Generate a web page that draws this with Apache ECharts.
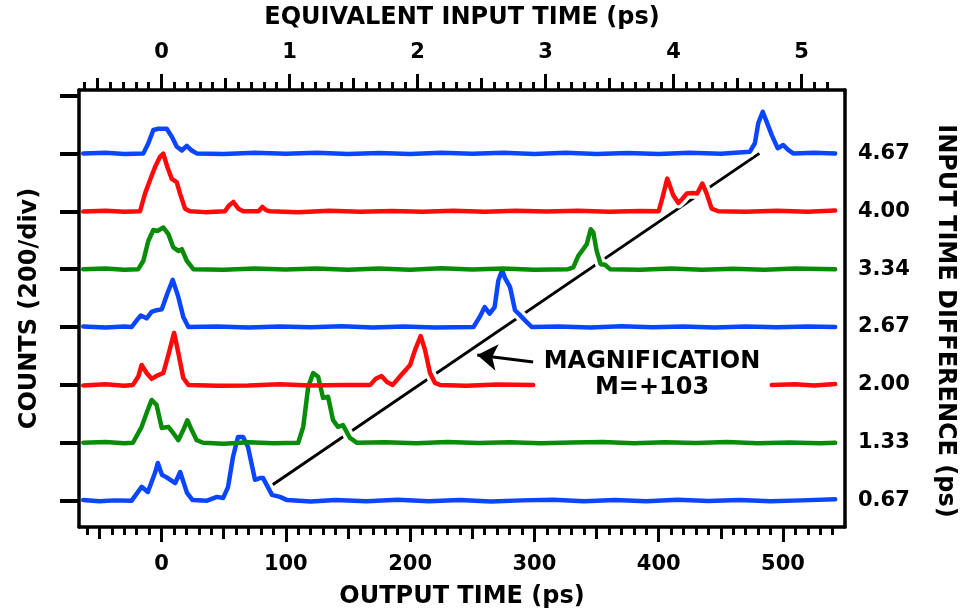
<!DOCTYPE html>
<html>
<head>
<meta charset="utf-8">
<script src="https://cdn.jsdelivr.net/npm/echarts@6/dist/echarts.min.js"></script>
<style>
html, body { margin: 0; padding: 0; background: #fff; }
#chart { width: 969px; height: 613px; }
</style>
</head>
<body>
<div id="chart"></div>
<script>
// tick labels
const outputTicks = [0, 100, 200, 300, 400, 500];     // ps, bottom axis
const inputTicks = [0, 1, 2, 3, 4, 5];                // ps, top axis
const diffLabels = ['0.67', '1.33', '2.00', '2.67', '3.34', '4.00', '4.67'];
const countTicks = [0, 200, 400, 600, 800, 1000, 1200, 1400];
const magnification = 103;

// counts vs output time (ps), one trace per input time difference, bottom to top
const t067 = [[-63,2],[-50,-2],[-38,1],[-24,0],[-16,48],[-11,30],[-5,99],[-3,130],[0.4,89],[5,78],[11,61],[15,99],[20.5,27],[25,2],[36.6,0],[44.6,13],[49.5,9],[53.5,47],[57.5,151],[61.5,220],[65.6,220],[69.6,185],[75.2,72],[79.2,78],[81.7,78],[88.9,20],[95.3,13],[101,2],[120,-3],[140,2],[165,-2],[190,3],[215,-2],[240,2],[265,-3],[290,1],[315,3],[340,-2],[365,2],[390,-2],[415,3],[440,-1],[465,2],[490,-2],[515,1],[542,5]];
const t133 = [[-63,0],[-45,3],[-30,-2],[-23,0],[-16,55],[-12,103],[-8,148],[-4,131],[0.2,51],[5.5,55],[9.5,33],[13.5,9],[17.5,44],[20.8,78],[24.3,44],[28.3,9],[33.4,0],[50,-3],[70,2],[90,-2],[110,0],[114,55],[118,193],[122,241],[126,228],[130,155],[134,159],[138,78],[142,55],[146,61],[151.6,17],[157.3,0],[180,2],[205,-2],[230,3],[255,-1],[280,2],[305,-2],[330,1],[355,3],[380,-2],[405,2],[430,-1],[455,3],[480,-2],[505,1],[530,-2],[542,0]];
const t200 = [[-63,-2],[-45,2],[-30,-3],[-23,0],[-18.7,29],[-16,69],[-12,41],[-8,21],[-4,31],[1.4,41],[5.5,104],[10.1,180],[13.5,111],[17.5,24],[21.6,0],[45,-3],[70,-2],[95,2],[120,-2],[145,0],[168,0],[172,20],[177,31],[181.4,10],[186,0],[193,35],[200,69],[204,121],[208.5,169],[212,121],[216,41],[220,7],[224,0],[245,-3],[270,1],[299,0],[400,null],[491,0],[510,2],[525,-2],[542,3]];
const t267 = [[-63,2],[-45,-2],[-30,2],[-24,0],[-20,23],[-16.7,40],[-12,30],[-8,52],[-4,58],[0.2,61],[4.7,116],[9,163],[13.5,104],[17.5,35],[21.6,0],[45,2],[70,-2],[95,2],[120,-1],[145,3],[170,-2],[195,2],[220,-2],[251,0],[256,35],[260,69],[264,46],[268,69],[271,161],[274,196],[276.4,169],[280.4,138],[284.4,58],[288.4,41],[292.4,23],[298,0],[320,2],[345,-2],[370,3],[395,-1],[420,2],[445,-2],[470,2],[495,-1],[520,2],[542,0]];
const t334 = [[-63,0],[-45,2],[-30,-2],[-18.7,0],[-14.6,29],[-10.6,98],[-6.6,135],[-3.1,132],[1.4,144],[5.5,121],[9.5,75],[13.5,63],[16.3,69],[20.3,29],[25.6,0],[50,-2],[75,2],[100,-1],[125,2],[150,-2],[175,2],[200,-2],[225,3],[250,-1],[275,2],[300,-2],[327,0],[331.3,6],[335.3,46],[339.3,69],[342.1,86],[345.3,138],[347.4,127],[350.1,63],[353.3,17],[356.8,15],[360.8,0],[385,-2],[410,2],[435,-2],[460,1],[485,-2],[510,2],[542,0]];
const t400 = [[-63,-1],[-45,2],[-30,-2],[-17.3,0],[-13.3,61],[-9.3,107],[-5.2,153],[-1.2,188],[1.4,199],[4.7,153],[8.2,112],[12.2,101],[14.9,61],[18.9,9],[22.9,0],[35,-3],[51,0],[54.5,21],[57.8,32],[61.8,9],[65.8,0],[78,0],[81.1,15],[84.6,3],[87.3,0],[110,-3],[135,2],[160,-2],[185,1],[210,-2],[235,2],[260,-2],[285,2],[310,-1],[335,2],[360,-2],[385,1],[400,0],[403.2,50],[406.9,113],[411.7,55],[415.8,29],[419.3,44],[422.5,61],[427.8,63],[431,61],[435.1,96],[438.6,61],[442.6,9],[448,0],[470,-2],[495,2],[520,-2],[542,3]];
const t467 = [[-63,0],[-45,2],[-30,-2],[-14.6,0],[-10.6,35],[-6.6,81],[-2.6,85],[4.2,85],[8.2,58],[12.2,24],[16.3,10],[20.3,26],[24.3,10],[28.3,0],[50,-2],[75,2],[100,-1],[125,2],[150,-2],[175,1],[200,-2],[225,2],[250,-1],[275,2],[300,-2],[325,2],[350,-2],[375,1],[400,-2],[425,2],[450,-1],[473.4,6],[477.4,35],[480.1,104],[483.7,144],[486.9,109],[490.9,64],[495.7,18],[500.2,29],[504.2,12],[508.2,0],[525,2],[542,0]];

// magnification guide line and arrow (output time, stacked counts)
const guideLine = [[87, 48], [481, 1200]];
const arrowLine = [[299, 479], [254, 503]];

const traces = [t067, t133, t200, t267, t334, t400, t467];
const traceColors = ['#0a46ff', '#078c07', '#ff0a0a', '#0a46ff', '#078c07', '#ff0a0a', '#0a46ff'];

const xMin = -66.4, xMax = 549.9, yMin = -91, yMax = 1419;

// minor and mid ticks for both time axes
const outMinor = [], outMid = [], inMinor = [], inMid = [];
for (let k = -6; k <= 54; k++) outMinor.push(k * 10);
for (let k = -1; k <= 10; k += 2) outMid.push(k * 50);
for (let k = -6; k <= 52; k++) inMinor.push(k / 10);
for (let k = -1; k <= 10; k += 2) inMid.push(k / 2);

const font = { color: '#000', fontFamily: 'DejaVu Sans', fontWeight: 'bold' };
const spine = { show: true, onZero: false, lineStyle: { color: '#000', width: 3.5 } };

function tickAxis(pos, min, max, ticks, len, labels) {
    return {
        type: 'value', position: pos, min: min, max: max,
        axisLine: labels ? spine : { show: false, onZero: false },
        axisTick: { show: true, customValues: ticks, length: len, lineStyle: { color: '#000', width: 3 } },
        axisLabel: labels ? Object.assign({ show: true, customValues: ticks, fontSize: 21, margin: 27 }, font) : { show: false },
        splitLine: { show: false }
    };
}

const xBottom = tickAxis('bottom', xMin, xMax, outputTicks, 15, true);
xBottom.name = 'OUTPUT TIME (ps)';
xBottom.nameLocation = 'middle';
xBottom.nameGap = 58;
xBottom.nameTextStyle = Object.assign({ fontSize: 24 }, font);

const xTop = tickAxis('top', xMin / magnification, xMax / magnification, inputTicks, 16, true);
xTop.name = 'EQUIVALENT INPUT TIME (ps)';
xTop.nameLocation = 'middle';
xTop.nameGap = 60;
xTop.nameTextStyle = Object.assign({ fontSize: 24 }, font);

const series = [{
    type: 'line', data: guideLine, z: 1, silent: true, showSymbol: false,
    lineStyle: { color: '#000', width: 3 },
    markLine: {
        silent: true, animation: false, symbol: ['none', 'arrow'], symbolSize: 20,
        label: { show: false },
        lineStyle: { color: '#000', width: 3, type: 'solid' },
        data: [[{ coord: arrowLine[0] }, { coord: arrowLine[1] }]]
    }
}];

traces.forEach(function (tr, i) {
    const shifted = tr.map(function (p) { return [p[0], p[1] === null ? null : p[1] + i * 200]; });
    series.push({
        type: 'line', data: shifted, z: 2, silent: true, showSymbol: false,
        lineStyle: { color: '#fff', width: 11, join: 'round' }
    });
    series.push({
        type: 'line', data: shifted, z: 3, silent: true, showSymbol: false,
        lineStyle: { color: traceColors[i], width: 4.5, join: 'round', cap: 'round' }
    });
});

const chart = echarts.init(document.getElementById('chart'), null, { renderer: 'canvas' });
chart.setOption({
    animation: false,
    backgroundColor: '#fff',
    grid: { left: 79, right: 124, top: 90, bottom: 86, containLabel: false, outerBoundsMode: 'none' },
    xAxis: [
        xBottom,
        tickAxis('bottom', xMin, xMax, outMinor, 8, false),
        tickAxis('bottom', xMin, xMax, outMid, 12, false),
        xTop,
        tickAxis('top', xMin / magnification, xMax / magnification, inMinor, 8, false),
        tickAxis('top', xMin / magnification, xMax / magnification, inMid, 12, false)
    ],
    yAxis: [{
        type: 'value', position: 'left', min: yMin, max: yMax,
        axisLine: spine,
        axisTick: { show: true, customValues: countTicks, length: 19, lineStyle: { color: '#000', width: 4 } },
        axisLabel: { show: false },
        splitLine: { show: false },
        name: 'COUNTS (200/div)', nameLocation: 'middle', nameGap: 37,
        nameTextStyle: Object.assign({ fontSize: 24 }, font)
    }, {
        type: 'value', position: 'right', min: yMin, max: yMax,
        axisLine: spine,
        axisTick: { show: false },
        axisLabel: Object.assign({
            show: true, fontSize: 21, margin: 13,
            customValues: countTicks.slice(0, diffLabels.length),
            formatter: function (v) { return diffLabels[Math.round(v / 200)]; }
        }, font),
        splitLine: { show: false }
    }],
    graphic: [{
        type: 'text', x: 945, y: 321, rotation: -Math.PI / 2, z: 10,
        style: Object.assign({ text: 'INPUT TIME DIFFERENCE (ps)', fontSize: 24, textAlign: 'center', textVerticalAlign: 'middle', fill: '#000' }, font)
    }, {
        type: 'text', x: 652, y: 362, z: 10,
        style: Object.assign({ text: 'MAGNIFICATION', fontSize: 24, textAlign: 'center', textVerticalAlign: 'middle', fill: '#000' }, font)
    }, {
        type: 'text', x: 652, y: 388, z: 10,
        style: Object.assign({ text: 'M=+103', fontSize: 24, textAlign: 'center', textVerticalAlign: 'middle', fill: '#000' }, font)
    }],
    series: series
});
</script>
</body>
</html>
